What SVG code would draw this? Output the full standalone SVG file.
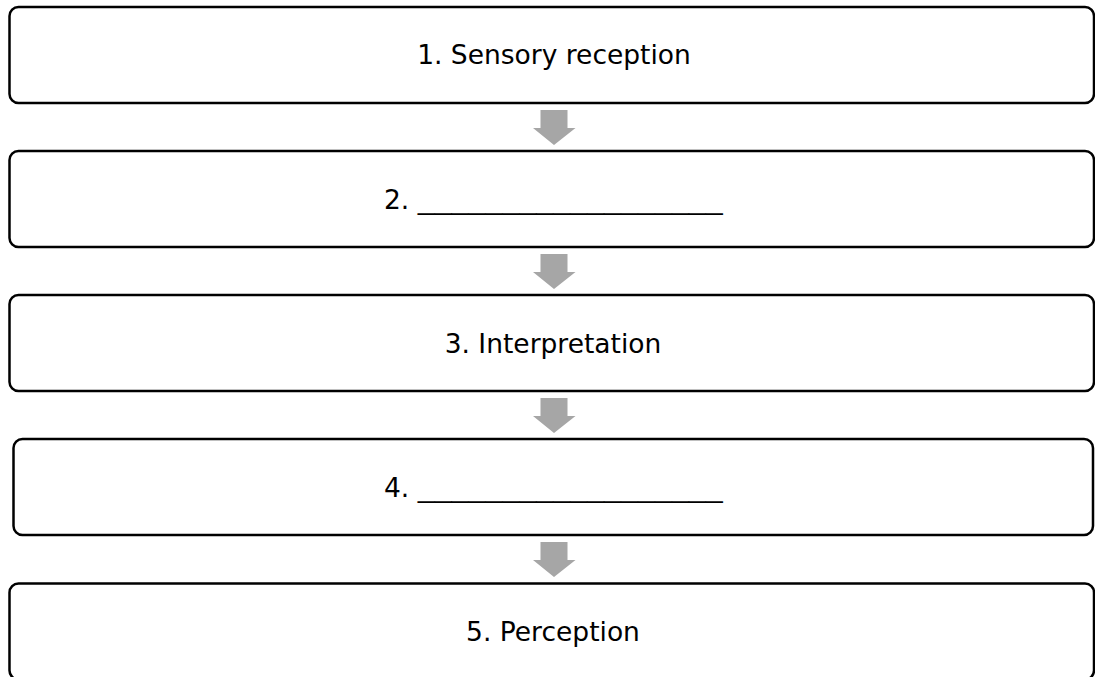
<svg xmlns="http://www.w3.org/2000/svg" width="1095" height="677" viewBox="0 0 1095 677">
<defs>
<style>
.box{fill:#ffffff;stroke:#000000;stroke-width:2.5}
.lbl{font-family:"DejaVu Sans",Verdana,sans-serif;font-size:26.5px;fill:#000000}
.arr{fill:#a6a6a6}
</style>
</defs>
<rect width="1095" height="677" fill="#ffffff"/>
<g id="connectors">
<polygon class="arr" points="540.5,110 567.5,110 567.5,128 575.5,128 554,145 533,128 540.5,128"/>
<polygon class="arr" points="540.5,254 567.5,254 567.5,272 575.5,272 554,289 533,272 540.5,272"/>
<polygon class="arr" points="540.5,398 567.5,398 567.5,416 575.5,416 554,433 533,416 540.5,416"/>
<polygon class="arr" points="540.5,542 567.5,542 567.5,560 575.5,560 554,577 533,560 540.5,560"/>
</g>
<g id="node1">
<rect class="box" x="9.5" y="7" width="1084.5" height="96" rx="9"/>
<text class="lbl" x="554" y="64" text-anchor="middle">1. Sensory reception</text>
</g>
<g id="node2">
<rect class="box" x="9.5" y="151" width="1084.5" height="96" rx="9"/>
<text class="lbl" x="384" y="208.5">2. <tspan textLength="305" lengthAdjust="spacingAndGlyphs">__________________</tspan></text>
</g>
<g id="node3">
<rect class="box" x="9.5" y="295" width="1084.5" height="96" rx="9"/>
<text class="lbl" x="553" y="352.5" text-anchor="middle">3. Interpretation</text>
</g>
<g id="node4">
<rect class="box" x="13.5" y="439" width="1079.5" height="96" rx="9"/>
<text class="lbl" x="384" y="496.5">4. <tspan textLength="305" lengthAdjust="spacingAndGlyphs">__________________</tspan></text>
</g>
<g id="node5">
<rect class="box" x="9.5" y="583.5" width="1084.5" height="96" rx="9"/>
<text class="lbl" x="553" y="640.5" text-anchor="middle">5. Perception</text>
</g>
</svg>
